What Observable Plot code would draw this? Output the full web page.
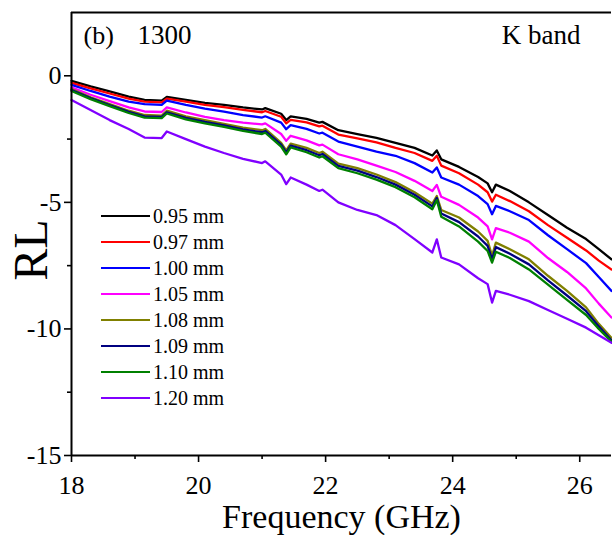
<!DOCTYPE html>
<html>
<head>
<meta charset="utf-8">
<script src="https://cdn.jsdelivr.net/npm/d3@7"></script>
<script src="https://cdn.jsdelivr.net/npm/@observablehq/plot@0.6"></script>
<style>
  html, body { margin: 0; padding: 0; background: #fff; }
  #chart { position: relative; width: 612px; height: 535px; overflow: hidden; }
  #chart svg, #chart svg text { font-family: "Liberation Serif", serif !important; }
</style>
</head>
<body>
<div id="chart"></div>
<script>
// Frequency (GHz)
const freq = [18.0, 18.3, 18.6, 18.9, 19.15, 19.42, 19.5, 19.8, 20.1, 20.4, 20.7, 21.0, 21.05, 21.3, 21.38, 21.45, 21.7, 21.9, 21.95, 22.2, 22.5, 22.8, 23.1, 23.4, 23.68, 23.75, 23.82, 24.1, 24.4, 24.55, 24.62, 24.68, 24.9, 25.2, 25.5, 25.8, 26.1, 26.3, 26.5];

// RL values per thickness
const rl095 = [-0.2, -0.42, -0.62, -0.82, -0.95, -0.98, -0.83, -0.95, -1.07, -1.15, -1.25, -1.33, -1.28, -1.5, -1.75, -1.6, -1.7, -1.85, -1.82, -2.15, -2.3, -2.45, -2.65, -2.85, -3.15, -2.95, -3.3, -3.6, -4.0, -4.25, -4.6, -4.3, -4.55, -5.0, -5.5, -6.0, -6.45, -6.85, -7.25];
const rl097 = [-0.28, -0.5, -0.7, -0.9, -1.02, -1.05, -0.9, -1.02, -1.15, -1.24, -1.35, -1.44, -1.39, -1.62, -1.88, -1.74, -1.84, -2.0, -1.97, -2.32, -2.47, -2.63, -2.85, -3.05, -3.36, -3.16, -3.55, -3.85, -4.3, -4.6, -4.97, -4.7, -4.95, -5.35, -5.9, -6.4, -6.9, -7.3, -7.65];
const rl100 = [-0.36, -0.6, -0.82, -1.02, -1.12, -1.15, -0.98, -1.15, -1.3, -1.42, -1.55, -1.65, -1.6, -1.85, -2.11, -1.95, -2.1, -2.28, -2.25, -2.6, -2.8, -3.0, -3.16, -3.45, -3.82, -3.62, -4.02, -4.3, -4.75, -5.07, -5.47, -5.14, -5.35, -5.7, -6.3, -6.85, -7.4, -7.95, -8.5];
const rl105 = [-0.46, -0.75, -1.0, -1.25, -1.41, -1.43, -1.25, -1.45, -1.62, -1.75, -1.85, -1.92, -1.88, -2.3, -2.57, -2.37, -2.55, -2.75, -2.72, -3.1, -3.3, -3.55, -3.8, -4.15, -4.55, -4.31, -4.78, -5.1, -5.6, -5.95, -6.46, -6.02, -6.2, -6.55, -7.2, -7.75, -8.4, -9.0, -9.55];
const rl108 = [-0.52, -0.85, -1.12, -1.38, -1.55, -1.57, -1.38, -1.6, -1.75, -1.9, -2.05, -2.15, -2.1, -2.65, -2.95, -2.68, -2.85, -3.05, -3.0, -3.47, -3.65, -3.9, -4.2, -4.6, -5.05, -4.75, -5.3, -5.6, -6.15, -6.52, -7.11, -6.59, -6.85, -7.25, -7.9, -8.5, -9.15, -9.8, -10.35];
const rl109 = [-0.56, -0.88, -1.16, -1.42, -1.6, -1.62, -1.44, -1.66, -1.82, -1.96, -2.12, -2.23, -2.18, -2.72, -3.03, -2.76, -2.94, -3.14, -3.09, -3.56, -3.75, -4.0, -4.3, -4.7, -5.16, -4.83, -5.44, -5.78, -6.35, -6.72, -7.25, -6.77, -7.03, -7.45, -8.08, -8.68, -9.3, -9.9, -10.45];
const rl110 = [-0.6, -0.92, -1.2, -1.47, -1.65, -1.67, -1.49, -1.72, -1.88, -2.02, -2.18, -2.3, -2.25, -2.8, -3.1, -2.83, -3.02, -3.23, -3.18, -3.65, -3.85, -4.1, -4.4, -4.8, -5.27, -4.91, -5.57, -5.95, -6.55, -6.92, -7.38, -6.95, -7.2, -7.65, -8.25, -8.85, -9.45, -10.0, -10.5];
const rl120 = [-0.96, -1.35, -1.75, -2.1, -2.44, -2.46, -2.2, -2.5, -2.8, -3.05, -3.28, -3.45, -3.38, -3.9, -4.28, -4.02, -4.3, -4.55, -4.5, -5.0, -5.3, -5.5, -5.9, -6.45, -6.98, -6.46, -7.18, -7.45, -8.0, -8.23, -8.96, -8.5, -8.65, -8.9, -9.25, -9.6, -9.95, -10.25, -10.55];

const seriesNames = ["0.95 mm", "0.97 mm", "1.00 mm", "1.05 mm", "1.08 mm", "1.09 mm", "1.10 mm", "1.20 mm"];
const seriesColors = ["#000000", "#ff0000", "#0000ff", "#ff00ff", "#808000", "#000080", "#008000", "#8000ff"];
const seriesValues = [rl095, rl097, rl100, rl105, rl108, rl109, rl110, rl120];

const xTicks = [18, 20, 22, 24, 26];
const xMinorTicks = [19, 21, 23, 25];
const yTicks = [-15, -10, -5, 0];
const yMinorTicks = [-12.5, -7.5, -2.5];

const panelLabel = "(b)";
const sampleLabel = "1300";
const bandLabel = "K band";
const xLabel = "Frequency (GHz)";
const yLabel = "RL";

const rows = [];
seriesValues.forEach((vals, si) => {
  vals.forEach((v, i) => rows.push({ f: freq[i], rl: v, name: seriesNames[si] }));
});

const font = "Liberation Serif";

const chart = Plot.plot({
  width: 612,
  height: 535,
  marginLeft: 71,
  marginRight: 1,
  marginTop: 12,
  marginBottom: 80,
  style: { fontFamily: font, fontSize: "26px", color: "#000", background: "#fff", overflow: "visible" },
  x: { domain: [18, 26.5] },
  y: { domain: [-15, 2.5] },
  color: { domain: seriesNames, range: seriesColors },
  marks: [
    Plot.line(rows, { x: "f", y: "rl", z: "name", stroke: "name", strokeWidth: 2.3, strokeLinejoin: "round" }),
    Plot.axisX({ ticks: xTicks, tickSize: 7, tickPadding: 13, label: null, fontSize: 26, fontFamily: font, tickFormat: d => String(d), strokeWidth: 1.6 }),
    Plot.axisX({ ticks: xMinorTicks, tickSize: 4, text: null, label: null, strokeWidth: 1.6 }),
    Plot.axisY({ ticks: yTicks, tickSize: 7, tickPadding: 3, label: null, fontSize: 26, fontFamily: font, tickFormat: d => String(d), strokeWidth: 1.6 }),
    Plot.axisY({ ticks: yMinorTicks, tickSize: 4, text: null, label: null, strokeWidth: 1.6 }),
    Plot.ruleX([18], { strokeWidth: 2 }),
    Plot.ruleY([-15], { strokeWidth: 2 }),
    Plot.ruleY([2.5], { strokeWidth: 2 }),
    Plot.text([xLabel], { frameAnchor: "bottom", lineAnchor: "middle", dy: 62, fontSize: 34, fontFamily: font }),
    Plot.text([panelLabel], { frameAnchor: "top-left", textAnchor: "start", lineAnchor: "middle", dx: 12, dy: 23, fontSize: 26, fontFamily: font }),
    Plot.text([sampleLabel], { frameAnchor: "top-left", textAnchor: "start", lineAnchor: "middle", dx: 66, dy: 23, fontSize: 27, fontFamily: font }),
    Plot.text([bandLabel], { frameAnchor: "top-right", textAnchor: "end", lineAnchor: "middle", dx: -31, dy: 23, fontSize: 27, fontFamily: font })
  ]
});

document.getElementById("chart").appendChild(chart);

const svg = d3.select(chart);

// rotated y-axis title
svg.append("text")
  .attr("transform", "translate(47,250) rotate(-90)")
  .attr("text-anchor", "middle")
  .attr("font-family", font)
  .attr("font-size", 48)
  .attr("fill", "#000")
  .text(yLabel);

// legend inside plot area
const lg = svg.append("g").attr("font-family", font).attr("font-size", 20).attr("text-anchor", "start");
seriesNames.forEach((name, i) => {
  const y = 216 + i * 26;
  lg.append("line").attr("x1", 101).attr("x2", 150).attr("y1", y).attr("y2", y)
    .attr("stroke", seriesColors[i]).attr("stroke-width", 2);
  lg.append("text").attr("x", 153).attr("y", y).attr("dy", "0.35em").attr("fill", "#000")
    .attr("text-anchor", "start").text(name);
});
</script>
</body>
</html>
